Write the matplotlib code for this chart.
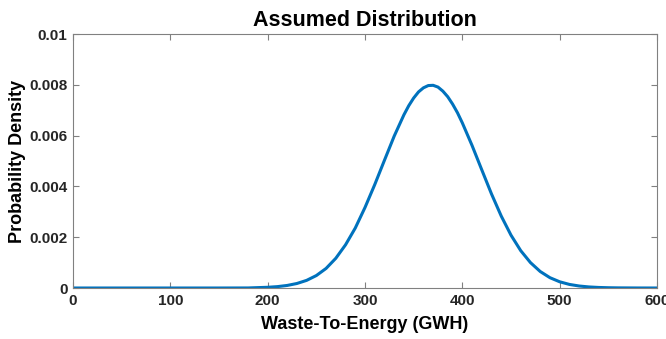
import matplotlib
matplotlib.use("Agg")
import matplotlib.pyplot as plt

plt.rcParams["font.family"] = ["Liberation Sans", "DejaVu Sans"]

# Values
wte_gwh = [0, 50, 100, 150, 180, 200, 210, 220, 230, 240, 250, 260, 270, 280, 290,
           300, 310, 320, 330, 340, 345, 350, 355, 360, 365, 370, 375, 380, 385,
           390, 395, 400, 410, 420, 430, 440, 450, 460, 470, 480, 490, 500, 510,
           520, 530, 540, 550, 560, 580, 600]
density = [0, 0, 0, 0, 0.000002, 0.000028, 0.000054, 0.0001, 0.000177, 0.0003,
           0.00049, 0.00077, 0.00117, 0.0017, 0.00236, 0.00317, 0.00407, 0.00503,
           0.00598, 0.00682, 0.00718, 0.00748, 0.00772, 0.00788, 0.00797, 0.00798,
           0.00791, 0.00775, 0.00753, 0.00724, 0.0069, 0.0065, 0.00561, 0.00465,
           0.0037, 0.00283, 0.00208, 0.00147, 0.001, 0.00065, 0.000406, 0.000245,
           0.000141, 0.0000786, 0.000042, 0.0000215, 0.0000106, 0.000005,
           0.000001, 0]

x_ticks = [0, 100, 200, 300, 400, 500, 600]
y_ticks = [0, 0.002, 0.004, 0.006, 0.008, 0.01]
y_ticklabels = ["0", "0.002", "0.004", "0.006", "0.008", "0.01"]

W, H = 666, 339
fig = plt.figure(figsize=(W / 100, H / 100), dpi=100)
ax = fig.add_axes([73 / W, 1 - 288 / H, (657 - 73) / W, (288 - 34) / H])

ax.plot(wte_gwh, density, color="#0072BD", linewidth=2.2)

ax.set_xlim(0, 600)
ax.set_ylim(0, 0.01)
ax.set_xticks(x_ticks)
ax.set_yticks(y_ticks)
ax.set_yticklabels(y_ticklabels)

for s in ax.spines.values():
    s.set_color("#808080")
    s.set_linewidth(0.8)
ax.tick_params(direction="in", top=True, right=True, length=4, color="#808080",
               labelsize=11, labelcolor="#262626", pad=4)
for lab in ax.get_xticklabels() + ax.get_yticklabels():
    lab.set_fontweight("bold")

ax.set_title("Assumed Distribution", fontsize=15.5, fontweight="bold", pad=6)
ax.set_xlabel("Waste-To-Energy (GWH)", fontsize=13, fontweight="bold", labelpad=6)
ax.set_ylabel("Probability Density", fontsize=13, fontweight="bold", labelpad=2)

fig.savefig("out.png", dpi=100)
